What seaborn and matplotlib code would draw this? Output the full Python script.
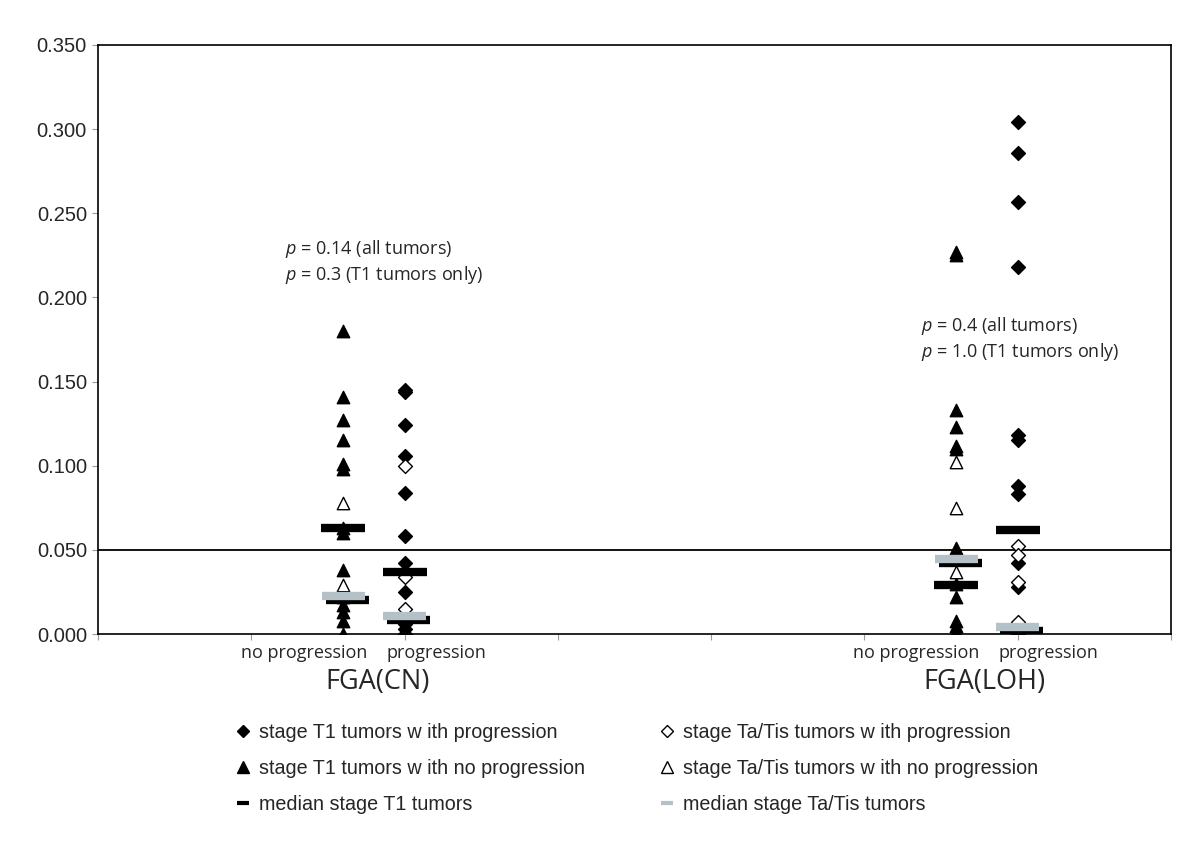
import matplotlib
matplotlib.use("Agg")
import matplotlib.pyplot as plt
import matplotlib.patheffects as pe
from matplotlib.lines import Line2D
import seaborn as sns
import pandas as pd
import numpy as np

# values (fraction of genome altered)
cn_noprog_t1 = [0.180, 0.141, 0.127, 0.115, 0.101, 0.098, 0.063, 0.060, 0.038,
                0.022, 0.017, 0.013, 0.008, 0.000]
cn_noprog_ta = [0.078, 0.029]
cn_prog_t1 = [0.145, 0.144, 0.124, 0.106, 0.084, 0.058, 0.042, 0.025, 0.012,
              0.006, 0.003, 0.000]
cn_prog_ta = [0.100, 0.034, 0.015]
loh_noprog_t1 = [0.227, 0.225, 0.133, 0.123, 0.112, 0.110, 0.051, 0.030, 0.022,
                 0.008, 0.005, 0.002, 0.000]
loh_noprog_ta = [0.102, 0.075, 0.037]
loh_prog_t1 = [0.304, 0.286, 0.257, 0.218, 0.118, 0.115, 0.088, 0.083, 0.042,
               0.028, 0.000]
loh_prog_ta = [0.052, 0.047, 0.031, 0.007]

groups = ["CN no progression", "CN progression", "LOH no progression", "LOH progression"]
median_t1 = [0.063, 0.037, 0.029, 0.062]
median_ta = [0.0225, 0.0105, 0.0445, 0.004]

p_texts_cn = ["= 0.14 (all tumors)", "= 0.3 (T1 tumors only)"]
p_texts_loh = ["= 0.4 (all tumors)", "= 1.0 (T1 tumors only)"]

# x position of each group on a 0..7 axis
group_x = dict(zip(groups, [1.6, 2.0, 5.6, 6.0]))

rows = []
for g, stage, vals in [
    (groups[0], "T1", cn_noprog_t1), (groups[0], "Ta", cn_noprog_ta),
    (groups[1], "T1", cn_prog_t1), (groups[1], "Ta", cn_prog_ta),
    (groups[2], "T1", loh_noprog_t1), (groups[2], "Ta", loh_noprog_ta),
    (groups[3], "T1", loh_prog_t1), (groups[3], "Ta", loh_prog_ta),
]:
    for v in vals:
        rows.append({"group": g, "stage": stage, "fga": v,
                     "prog": "none" if "no progression" in g else "progression"})
df = pd.DataFrame(rows)
df["x"] = df["group"].map(group_x)

sns.set_style("white")
plt.rcParams["font.family"] = ["Liberation Sans", "DejaVu Sans"]
plt.rcParams["mathtext.fontset"] = "custom"
plt.rcParams["mathtext.it"] = "Open Sans:italic"
plt.rcParams["mathtext.rm"] = "Open Sans"

fig = plt.figure(figsize=(12, 8.49), dpi=100)
ax = fig.add_axes([98 / 1200, 1 - 634 / 849, (1171 - 98) / 1200, (634 - 45) / 849])

styles = {
    ("progression", "T1"): dict(marker="D", color="black", edgecolor="black", s=50),
    ("progression", "Ta"): dict(marker="D", color="white", edgecolor="black", s=50),
    ("none", "T1"): dict(marker="^", color="black", edgecolor="black", s=80),
    ("none", "Ta"): dict(marker="^", color="white", edgecolor="black", s=80),
}
for (prog, stage), kw in styles.items():
    sub = df[(df["prog"] == prog) & (df["stage"] == stage)]
    sns.scatterplot(data=sub, x="x", y="fga", ax=ax, linewidth=1.0, zorder=3,
                    legend=False, **kw)

# 0.05 reference line
ax.axhline(0.05, color="black", lw=1.3, zorder=2)

# median bars; the grey ones carry a black drop shadow
mx = [group_x[g] for g in groups]
ax.plot(mx, median_t1, ls="none", marker="_", ms=31, mew=6, color="black", zorder=5)
ax.plot(mx, median_ta, ls="none", marker="_", ms=31, mew=6, color="#b4c1c7", zorder=6,
        path_effects=[pe.SimpleLineShadow(offset=(3, -3), shadow_color="black", alpha=1),
                      pe.Normal()])

ax.set_xlim(0, 7)
ax.set_ylim(0, 0.35)
ax.set_xticks(range(8))
ax.set_xticklabels([])
ax.set_yticks(np.arange(0, 0.351, 0.05))
ax.set_yticklabels([f"{v:.3f}" for v in np.arange(0, 0.351, 0.05)], fontsize=14.5)
ax.tick_params(axis="both", direction="out", length=4, color="#999999", left=True, bottom=True)
ax.tick_params(axis="y", pad=4)
ax.set_xlabel("")
ax.set_ylabel("")
for sp in ax.spines.values():
    sp.set_color("black")
    sp.set_linewidth(1.2)

# p-value notes
for i, t in enumerate(p_texts_cn):
    ax.text(1.22, 0.2288 - i * 0.0155, "$\\it{p}$ " + t, fontsize=13,
            family="Open Sans", va="center", ha="left")
for i, t in enumerate(p_texts_loh):
    ax.text(5.37, 0.183 - i * 0.0155, "$\\it{p}$ " + t, fontsize=13,
            family="Open Sans", va="center", ha="left")

# category labels under the axis
cat_font = dict(family="Open Sans", va="center", ha="center")
for xp, lab in [(304, "no progression"), (436, "progression"),
                (916, "no progression"), (1048, "progression")]:
    fig.text(xp / 1200, 1 - 653 / 849, lab, fontsize=13, **cat_font)
fig.text(378 / 1200, 1 - 682 / 849, "FGA(CN)", fontsize=19.5, **cat_font)
fig.text(984 / 1200, 1 - 682 / 849, "FGA(LOH)", fontsize=19.5, **cat_font)

# legend in two columns
handles = [
    Line2D([], [], ls="none", marker="D", ms=6, color="black"),
    Line2D([], [], ls="none", marker="^", ms=8, color="black"),
    Line2D([], [], ls="none", marker="_", ms=8, mew=3, color="black"),
    Line2D([], [], ls="none", marker="D", ms=6, mfc="white", mec="black"),
    Line2D([], [], ls="none", marker="^", ms=8, mfc="white", mec="black"),
    Line2D([], [], ls="none", marker="_", ms=8, mew=3, color="#b4c1c7"),
]
labels = [
    "stage T1 tumors w ith progression",
    "stage T1 tumors w ith no progression",
    "median stage T1 tumors",
    "stage Ta/Tis tumors w ith progression",
    "stage Ta/Tis tumors w ith no progression",
    "median stage Ta/Tis tumors",
]
fig.legend(handles, labels, ncol=2, loc="upper left",
           bbox_to_anchor=(226 / 1200, 1 - 713 / 849), frameon=False,
           fontsize=14.2, handlelength=0.7, handletextpad=0.45,
           labelspacing=0.86, columnspacing=3.85, borderpad=0)

fig.savefig("out.png", dpi=100)
